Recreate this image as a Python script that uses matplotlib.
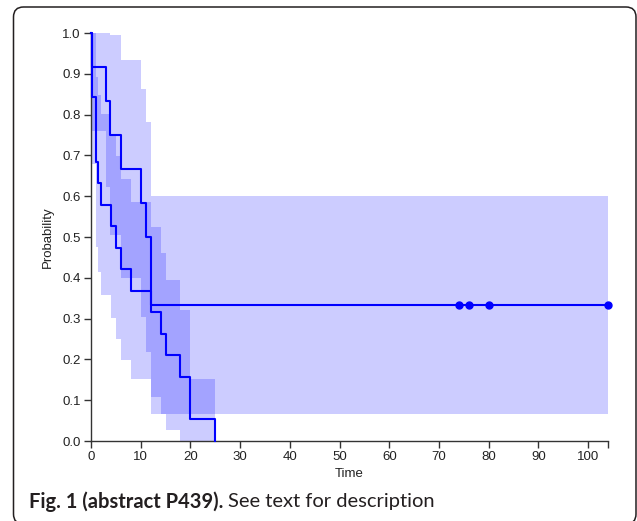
import numpy as np
import matplotlib
matplotlib.use('Agg')
import matplotlib.pyplot as plt
from matplotlib.patches import FancyBboxPatch
from matplotlib.transforms import IdentityTransform

# group A (n=12): step times and survival
a_times = [0, 0.3, 3.0, 3.8, 6.0, 10.0, 11.0, 12.0]
a_surv = [1.0, 0.917, 0.833, 0.75, 0.667, 0.583, 0.5, 0.333]
a_end = 104
a_lower = [0.76, 0.622, 0.505, 0.40, 0.304, 0.217, 0.067]
a_upper = [1.0, 1.0, 0.995, 0.934, 0.862, 0.783, 0.60]
a_censor = [74, 76, 80, 104]

# group B (n=19)
b_times = [0, 0.2, 1.0, 1.5, 2.0, 4.0, 5.0, 6.0, 8.0, 12.0, 14.0, 15.0, 18.0, 20.0, 25.0]
b_surv = [1.0, 0.842, 0.684, 0.632, 0.579, 0.526, 0.474, 0.421, 0.368,
          0.316, 0.263, 0.211, 0.158, 0.053, 0.0]
b_lower = [0.678, 0.475, 0.415, 0.357, 0.302, 0.249, 0.199, 0.152, 0.107,
           0.065, 0.027, 0.0, 0.0]
b_upper = [1.0, 0.893, 0.848, 0.801, 0.751, 0.698, 0.643, 0.585, 0.525,
           0.461, 0.394, 0.322, 0.153]

x_ticks = [0, 10, 20, 30, 40, 50, 60, 70, 80, 90, 100]
y_ticks = [0.0, 0.1, 0.2, 0.3, 0.4, 0.5, 0.6, 0.7, 0.8, 0.9, 1.0]

plt.rcParams['font.family'] = ['Liberation Sans', 'DejaVu Sans']

W, H = 637, 521
fig = plt.figure(figsize=(W / 100, H / 100), dpi=100)
fig.patch.set_facecolor('white')

ax = fig.add_axes([91 / W, 80 / H, 517 / W, 408 / H])

blue = '#0000ff'

# confidence bands
bt = b_times[1:-1] + [b_times[-1]]
ax.fill_between(bt, b_lower + [b_lower[-1]], b_upper + [b_upper[-1]],
                step='post', color=blue, alpha=0.2, linewidth=0)
at = a_times[1:] + [a_end]
ax.fill_between(at, a_lower + [a_lower[-1]], a_upper + [a_upper[-1]],
                step='post', color=blue, alpha=0.2, linewidth=0)

# survival curves
ax.step(a_times + [a_end], a_surv + [a_surv[-1]], where='post',
        color=blue, lw=1.5, clip_on=False, zorder=3)
ax.step(b_times, b_surv, where='post', color=blue, lw=1.5,
        clip_on=False, zorder=3)
ax.plot(a_censor, [a_surv[-1]] * len(a_censor), 'o', color=blue,
        markersize=5, clip_on=False, zorder=4)

ax.set_xlim(0, 104)
ax.set_ylim(0, 1)
ax.set_xticks(x_ticks)
ax.set_xticklabels([str(t) for t in x_ticks])
ax.set_xticks([104], minor=True)
ax.set_yticks(y_ticks)
ax.set_yticklabels(['%.1f' % v for v in y_ticks])

for s in ['top', 'right']:
    ax.spines[s].set_visible(False)
for s in ['left', 'bottom']:
    ax.spines[s].set_color('#333333')
    ax.spines[s].set_linewidth(1)
ax.tick_params(which='both', direction='out', length=5, width=1,
               color='#333333', labelsize=9.5, labelcolor='#222222', pad=2.5)

ax.set_xlabel('Time', fontsize=9.5, color='#222222', labelpad=3)
ax.set_ylabel('Probability', fontsize=9.5, color='#222222', labelpad=6)

# caption
cap_y = (H - 502) / H
cap_font = ['Lato', 'DejaVu Sans']
t1 = fig.text(29 / W, cap_y, 'Fig. 1 (abstract P439).', fontsize=14.5,
              fontweight='bold', va='center', family=cap_font, color='#231f20')
fig.canvas.draw()
bb = t1.get_window_extent()
fig.text((bb.x1 + 5) / W, cap_y, 'See text for description', fontsize=14.5,
         va='center', family=cap_font, color='#231f20')

# frame around the figure
frame = FancyBboxPatch((13.5, -3), 622.5, 517, boxstyle='round,pad=0,rounding_size=10',
                       transform=IdentityTransform(), facecolor='none',
                       edgecolor='#231f20', linewidth=1.1)
fig.patches.append(frame)

fig.savefig('out.png', dpi=100)
